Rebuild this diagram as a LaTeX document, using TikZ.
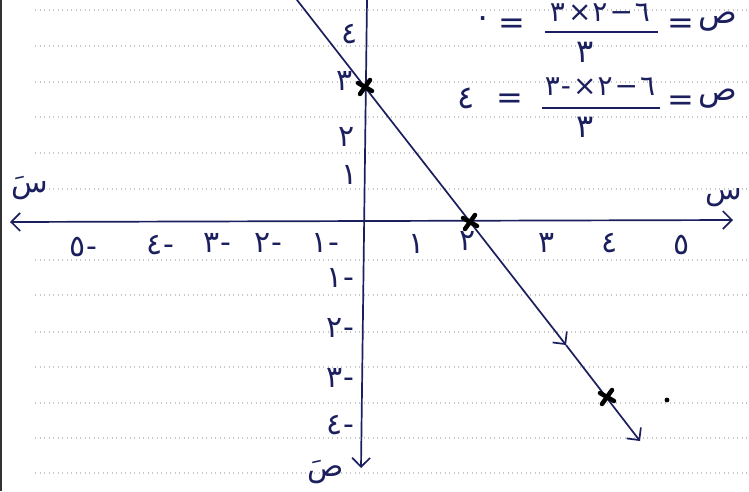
\documentclass[tikz,border=0pt]{standalone}
\usepackage{fontspec}
\newfontfamily\ar[Script=Arabic]{DejaVu Sans}
\usetikzlibrary{arrows.meta}
\definecolor{ink}{HTML}{1C1F5E}
\newcommand{\negnum}[1]{#1\kern1pt-}
\begin{document}
\begin{tikzpicture}[x=1pt,y=-1pt,
  ax/.style={ink, line width=1.7pt},
  lab/.style={ink, font=\ar\fontsize{30}{32}\selectfont, inner sep=0pt},
  eq/.style={ink, font=\ar\fontsize{32}{34}\selectfont, inner sep=0pt},
  num/.style={ink, font=\ar\fontsize{28}{30}\selectfont, inner sep=0pt},
  paperrule/.style={black!22, line width=1.1pt, dash pattern=on 1pt off 3.5pt},
  barb/.tip={Straight Barb[length=9pt,width=18pt,line width=1.7pt]},
  xm/.pic={\draw[black,line width=4.5pt,line cap=round] (-7,-4)--(7,4) (-5,7)--(5,-7);}
]
\useasboundingbox (0,0) rectangle (749,491);
\fill[white] (0,0) rectangle (749,491);
% notebook rules
\foreach \yy in {10,46,82,117,153,189,260,295,332,367,403,438,473}
  \draw[paperrule] (35,\yy) -- (749,\yy);
\draw[black!80, line width=2pt] (1,0) -- (1,491);

% axes
\coordinate (ytop) at (367,0);
\coordinate (ybot) at (361,468);
\coordinate (xl) at (10,222);
\coordinate (xr) at (733,220);
\draw[ax,-barb] (ytop) -- (ybot);
\draw[ax,barb-barb] (xl) -- (xr);

% graph line
\coordinate (la) at (290,-9);
\coordinate (P1) at (365,87);
\coordinate (P2) at (470,222);
\coordinate (M) at (566,345);
\coordinate (P3) at (607,397);
\coordinate (lb) at (640,441);
\draw[ax,-barb] (la) -- (M);
\draw[ax,-barb] (M) -- (lb);
\pic at (P1) {xm};
\pic at (P2) {xm};
\pic at (P3) {xm};
\fill[black] (667,400) circle (2.4pt);

% x labels
\node[lab] (x1) at (417,244) {١};
\node[lab] (x2) at (468,241) {٢};
\node[lab] (x3) at (547,243) {٣};
\node[lab] (x4) at (610,243) {٤};
\node[lab] (x5) at (682,245) {٥};
\node[lab] (xm1) at (325,243) {\negnum{١}};
\node[lab] (xm2) at (268,243) {\negnum{٢}};
\node[lab] (xm3) at (217,243) {\negnum{٣}};
\node[lab] (xm4) at (160,245) {\negnum{٤}};
\node[lab] (xm5) at (83,247) {\negnum{٥}};
% y labels
\node[lab] (y4) at (350,34) {٤};
\node[lab] (y3) at (345,81) {٣};
\node[lab] (y2) at (347,137) {٢};
\node[lab] (y1) at (350,175) {١};
\node[lab] (ym1) at (340,278) {\negnum{١}};
\node[lab] (ym2) at (340,328) {\negnum{٢}};
\node[lab] (ym3) at (340,378) {\negnum{٣}};
\node[lab] (ym4) at (340,425) {\negnum{٤}};
% axis names
\node[lab] (sx) at (724,198) {س};
\node[lab] (sxp) at (30,188) {سَ};
\node[lab] (syp) at (326,472) {صَ};

% equations
\node[eq] (r1v) at (483,22) {٠};
\node[eq] (r1e) at (512,26) {=};
\node[num] (r1n) at (600,13) {٣\kern3pt×\kern1pt٢\kern2pt−\kern2pt٦};
\draw[ink,line width=1.8pt] (545,32) -- (658,32);
\node[eq] (r1d) at (585,52) {٣};
\node[eq] (r1q) at (681,26) {=};
\node[eq] (r1s) at (718,22) {ص};

\node[eq] (r2v) at (466,98) {٤};
\node[eq] (r2e) at (510,101) {=};
\node[num] (r2n) at (600,87) {٣\kern1pt-\kern2pt×\kern1pt٢\kern2pt−\kern2pt٦};
\draw[ink,line width=1.8pt] (542,108) -- (660,108);
\node[eq] (r2d) at (585,127) {٣};
\node[eq] (r2q) at (681,103) {=};
\node[eq] (r2s) at (718,99) {ص};
\end{tikzpicture}
\end{document}
